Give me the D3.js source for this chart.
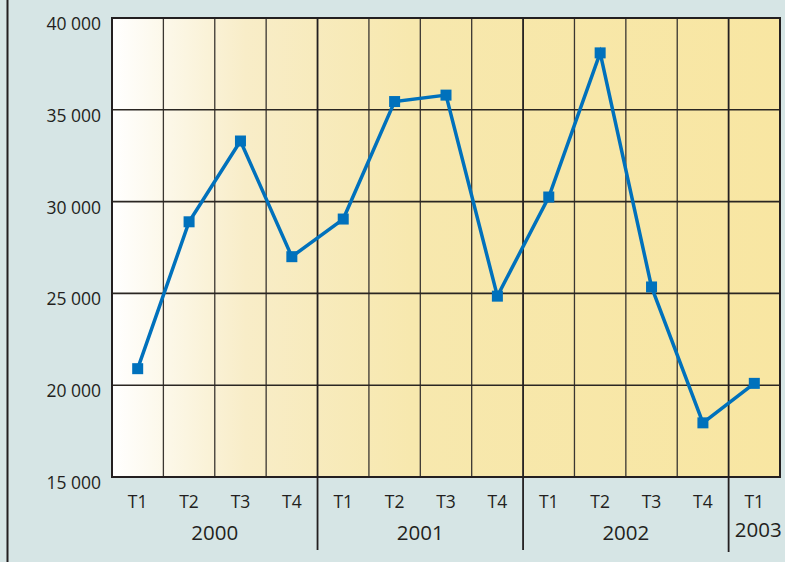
<!DOCTYPE html>
<html>
<head>
<meta charset="utf-8">
<script src="https://cdn.jsdelivr.net/npm/d3@7"></script>
<style>
  body { margin: 0; background: #d6e5e5; }
  svg { display: block; }
  text { font-family: "Open Sans", sans-serif; fill: #231f20; }
</style>
</head>
<body>
<div id="chart"></div>
<script>
// quarters and years
var quarters = ["T1", "T2", "T3", "T4", "T1", "T2", "T3", "T4", "T1", "T2", "T3", "T4", "T1"];
var years = ["2000", "2001", "2002", "2003"];
var yearStart = [0, 4, 8, 12];
var yearSpan = [4, 4, 4, 1];
var values = [20900, 28900, 33300, 27000, 29050, 35450, 35800, 24850, 30250, 38100, 25350, 17950, 20100];
var yTicks = [15000, 20000, 25000, 30000, 35000, 40000];

var W = 785, H = 562;
// note: "top" is taken by window.top, so plot edges get their own names
var plotLeft = 112, plotRight = 780, plotTop = 18, plotBottom = 477;

var svg = d3.select("#chart").append("svg")
    .attr("width", W)
    .attr("height", H);

var defs = svg.append("defs");
var grad = defs.append("linearGradient")
    .attr("id", "bg")
    .attr("x1", "0%").attr("x2", "100%")
    .attr("y1", "0%").attr("y2", "0%");
grad.append("stop").attr("offset", "0%").attr("stop-color", "#ffffff");
grad.append("stop").attr("offset", "20%").attr("stop-color", "#f8edc8");
grad.append("stop").attr("offset", "45%").attr("stop-color", "#f7e8ae");
grad.append("stop").attr("offset", "100%").attr("stop-color", "#f8e6a2");

var x = d3.scaleBand()
    .domain(d3.range(quarters.length))
    .range([plotLeft, plotRight])
    .paddingInner(0)
    .paddingOuter(0);

var y = d3.scaleLinear()
    .domain([15000, 40000])
    .range([plotBottom, plotTop]);

// page left rule
svg.append("line")
    .attr("x1", 7.5).attr("x2", 7.5)
    .attr("y1", 0).attr("y2", H)
    .attr("stroke", "#231f20")
    .attr("stroke-width", 2);

// plot background
svg.append("rect")
    .attr("x", plotLeft).attr("y", plotTop)
    .attr("width", plotRight - plotLeft).attr("height", plotBottom - plotTop)
    .attr("fill", "url(#bg)");

// vertical quarter lines
var quarterEdges = d3.range(1, quarters.length).filter(function (i) {
    return yearStart.indexOf(i) === -1;
});
svg.append("g").selectAll("line")
    .data(quarterEdges)
    .join("line")
    .attr("x1", function (i) { return x(i); })
    .attr("x2", function (i) { return x(i); })
    .attr("y1", plotTop).attr("y2", plotBottom)
    .attr("stroke", "#3a3631")
    .attr("stroke-width", 1.3);

// horizontal grid
svg.append("g").selectAll("line")
    .data(yTicks.slice(1, -1))
    .join("line")
    .attr("x1", plotLeft).attr("x2", plotRight)
    .attr("y1", function (d) { return y(d); })
    .attr("y2", function (d) { return y(d); })
    .attr("stroke", "#2a2622")
    .attr("stroke-width", 1.6);

// year separators, extended below
svg.append("g").selectAll("line")
    .data(yearStart.slice(1))
    .join("line")
    .attr("x1", function (i) { return x(i); })
    .attr("x2", function (i) { return x(i); })
    .attr("y1", plotTop)
    .attr("y2", function (i, k) { return k === 2 ? 552 : 550; })
    .attr("stroke", "#231f20")
    .attr("stroke-width", 1.8);

// plot frame
svg.append("rect")
    .attr("x", plotLeft).attr("y", plotTop)
    .attr("width", plotRight - plotLeft).attr("height", plotBottom - plotTop)
    .attr("fill", "none")
    .attr("stroke", "#231f20")
    .attr("stroke-width", 2);

// y labels
svg.append("g").selectAll("text")
    .data(yTicks)
    .join("text")
    .attr("x", 101)
    .attr("y", function (d) { return y(d) + 12; })
    .attr("text-anchor", "end")
    .attr("font-size", "17.5px")
    .text(function (d) { return d3.format(",")(d).replace(",", " "); });

// quarter labels
svg.append("g").selectAll("text")
    .data(quarters)
    .join("text")
    .attr("x", function (d, i) { return x(i) + x.bandwidth() / 2; })
    .attr("y", 508)
    .attr("text-anchor", "middle")
    .attr("font-size", "17.5px")
    .text(function (d) { return d; });

// year labels
svg.append("g").selectAll("text")
    .data(years)
    .join("text")
    .attr("x", function (d, i) {
        return x(yearStart[i]) + x.bandwidth() * yearSpan[i] / 2 + (i === 3 ? 4 : 0);
    })
    .attr("y", function (d, i) { return i === 3 ? 537 : 540; })
    .attr("text-anchor", "middle")
    .attr("font-size", "20.5px")
    .text(function (d) { return d; });

// series line
var line = d3.line()
    .x(function (d, i) { return x(i) + x.bandwidth() / 2; })
    .y(function (d) { return y(d); });

svg.append("path")
    .datum(values)
    .attr("d", line)
    .attr("fill", "none")
    .attr("stroke", "#0071bc")
    .attr("stroke-width", 3.5)
    .attr("stroke-linejoin", "miter");

var m = 11;
svg.append("g").selectAll("rect")
    .data(values)
    .join("rect")
    .attr("x", function (d, i) { return x(i) + x.bandwidth() / 2 - m / 2; })
    .attr("y", function (d) { return y(d) - m / 2; })
    .attr("width", m).attr("height", m)
    .attr("fill", "#0071bc");
</script>
</body>
</html>
